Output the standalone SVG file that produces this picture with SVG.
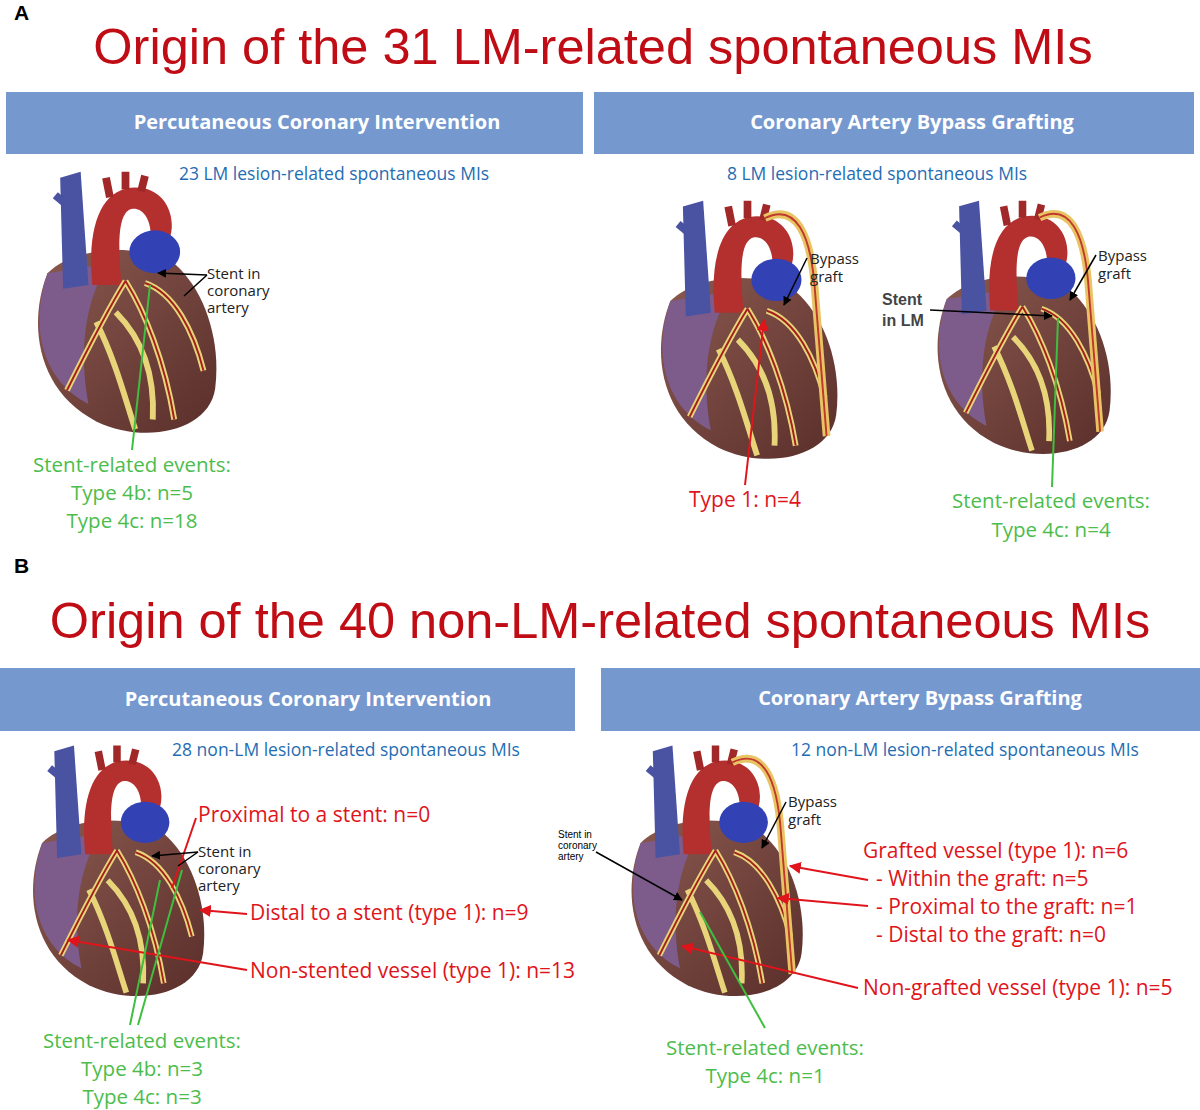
<svg xmlns="http://www.w3.org/2000/svg" width="1200" height="1110" viewBox="0 0 1200 1110">
<style>
.t{font-family:"Liberation Sans",Arial,sans-serif}
.ttl{font-family:"Liberation Sans",Arial,sans-serif;font-size:50.5px;fill:#c00d15;text-anchor:middle}
.lt{font-family:"Liberation Sans",Arial,sans-serif;font-size:21px;font-weight:bold}
.bar{fill:#7598cf}
.bt{font-family:"Open Sans","Liberation Sans",sans-serif;font-size:20px;font-weight:bold;fill:#fff;text-anchor:middle}
.bl{font-family:"Open Sans","Liberation Sans",sans-serif;font-size:17.5px;fill:#1f6db3;text-anchor:middle}
.g{font-family:"Open Sans","Liberation Sans",sans-serif;font-size:20.5px;fill:#4cbd4c;text-anchor:middle}
.r{font-family:"Open Sans","Liberation Sans",sans-serif;font-size:21px;fill:#e0141b}
.k{font-family:"Open Sans","Liberation Sans",sans-serif;font-size:15px;fill:#222}
.gl{stroke:#3fbf3f;stroke-width:2;fill:none}
.rl{stroke:#e0141b;stroke-width:2;fill:none}
.kl{stroke:#000;stroke-width:1.5;fill:none}
</style>
<defs>
<marker id="ak" viewBox="0 0 10 10" refX="9" refY="5" markerWidth="6" markerHeight="6" orient="auto"><path d="M0,0L10,5L0,10z" fill="#000"/></marker>
<marker id="ar" viewBox="0 0 10 10" refX="9" refY="5" markerWidth="6" markerHeight="6" orient="auto"><path d="M0,0L10,5L0,10z" fill="#e0141b"/></marker>
<linearGradient id="bd" x1="0" y1="0" x2="1" y2="1"><stop offset="0" stop-color="#8a5a50"/><stop offset="1" stop-color="#5a2e2a"/></linearGradient>
<symbol id="heart" viewBox="0 0 200 280" width="200" height="280">
<path d="M20,110 C0,160 8,230 70,262 C120,286 186,272 192,228 C198,180 182,128 150,100 C120,80 50,80 20,110Z" fill="url(#bd)"/>
<path d="M20,110 C0,170 18,222 62,244 C52,190 58,140 82,100Z" fill="#7d5c8c"/>
<path d="M33,12 L54,6 L62,122 L36,126Z" fill="#4a52a2"/>
<path d="M40,40 L28,30" stroke="#4a52a2" stroke-width="8"/>
<path d="M66,122 C60,60 76,22 110,22 C140,22 152,50 146,72 L126,72 C126,52 116,42 106,44 C92,48 92,80 96,122Z" fill="#b3302e"/>
<path d="M84,32 L80,12 M100,24 L100,6 M116,26 L120,10" stroke="#a02828" stroke-width="8"/>
<ellipse cx="130" cy="88" rx="26" ry="22" fill="#3242b5"/>
<path d="M100,118 C120,150 140,200 150,260 M100,118 C80,150 60,190 40,230 M120,120 C150,130 170,170 180,210 M70,160 C90,200 100,240 110,270 M90,150 C120,180 130,220 128,260" stroke="#e8d57a" stroke-width="6" fill="none"/>
<path d="M100,118 C120,150 140,200 150,260 M100,118 C80,150 60,190 40,230 M120,120 C150,130 170,170 180,210" stroke="#a4201c" stroke-width="2" fill="none"/>
</symbol>
<symbol id="graft" viewBox="0 0 200 280" width="200" height="280">
<path d="M118,24 C150,8 166,40 170,100 L182,250" stroke="#e9c465" stroke-width="8" fill="none"/>
<path d="M118,24 C150,8 166,40 170,100 L182,250" stroke="#c0392b" stroke-width="2" fill="none"/>
</symbol>
</defs>
<text class="lt" x="14" y="20">A</text>
<text class="ttl" x="593" y="64">Origin of the 31 LM-related spontaneous MIs</text>
<g id="pciA"><rect class="bar" x="6" y="92" width="577" height="62"/><text class="bt" x="317" y="129">Percutaneous Coronary Intervention</text></g>
<g id="cabgA"><rect class="bar" x="594" y="92" width="600" height="62"/><text class="bt" x="912" y="129">Coronary Artery Bypass Grafting</text></g>
<text class="bl" x="334" y="180">23 LM lesion-related spontaneous MIs</text>
<text class="bl" x="877" y="180">8 LM lesion-related spontaneous MIs</text>
<g id="heart1"><use href="#heart" x="28" y="165" width="195" height="275"/></g>
<g id="heart2"><use href="#heart" x="645" y="195" width="205" height="270"/><use href="#graft" x="645" y="195" width="205" height="270"/></g>
<g id="heart3"><use href="#heart" x="920" y="195" width="205" height="265"/><use href="#graft" x="920" y="195" width="205" height="265"/></g>
<g id="heart4"><use href="#heart" x="22" y="740" width="190" height="262"/></g>
<g id="heart5"><use href="#heart" x="618" y="740" width="195" height="262"/><use href="#graft" x="618" y="740" width="195" height="262"/></g>
<g id="connectors">
<path class="kl" d="M207,275 L158,273" marker-end="url(#ak)"/><path class="kl" d="M207,275 L184,296"/>
<path class="gl" d="M132,450 L150,285"/>
<path class="kl" d="M807,258 L784,305" marker-end="url(#ak)"/>
<path class="rl" d="M745,485 L764,320" marker-end="url(#ar)"/>
<path class="kl" d="M1096,255 L1070,300" marker-end="url(#ak)"/>
<path class="kl" d="M930,310 L1052,316" marker-end="url(#ak)"/>
<path class="gl" d="M1052,487 L1058,318"/>
<path class="rl" d="M196,818 L172,888"/>
<path class="kl" d="M198,852 L152,856" marker-end="url(#ak)"/><path class="kl" d="M198,852 L178,866"/>
<path class="rl" d="M247,914 L200,910" marker-end="url(#ar)"/>
<path class="rl" d="M247,970 L68,940" marker-end="url(#ar)"/>
<path class="gl" d="M130,1025 L160,880 M138,1025 L182,870"/>
<path class="kl" d="M596,852 L682,900" marker-end="url(#ak)"/>
<path class="kl" d="M786,802 L762,848" marker-end="url(#ak)"/>
<path class="rl" d="M868,880 L790,866" marker-end="url(#ar)"/>
<path class="rl" d="M868,906 L778,898" marker-end="url(#ar)"/>
<path class="rl" d="M858,988 L682,946" marker-end="url(#ar)"/>
<path class="gl" d="M765,1028 L700,912"/>
</g>
<text class="k" x="207" y="279">Stent in</text><text class="k" x="207" y="296">coronary</text><text class="k" x="207" y="313">artery</text>
<text class="g" x="132" y="472">Stent-related events:</text><text class="g" x="132" y="500">Type 4b: n=5</text><text class="g" x="132" y="528">Type 4c: n=18</text>
<text class="k" x="810" y="264">Bypass</text><text class="k" x="810" y="282">graft</text>
<text class="k" x="1098" y="261">Bypass</text><text class="k" x="1098" y="279">graft</text>
<text class="t" x="882" y="305" font-size="16" font-weight="bold" fill="#444">Stent</text><text class="t" x="882" y="326" font-size="16" font-weight="bold" fill="#444">in LM</text>
<text class="r" x="745" y="507" text-anchor="middle">Type 1: n=4</text>
<text class="g" x="1051" y="508">Stent-related events:</text><text class="g" x="1051" y="537">Type 4c: n=4</text>
<text class="lt" x="14" y="573">B</text>
<text class="ttl" x="600" y="638" font-size="51.5">Origin of the 40 non-LM-related spontaneous MIs</text>
<g id="pciB"><rect class="bar" x="0" y="668" width="575" height="63"/><text class="bt" x="308" y="706">Percutaneous Coronary Intervention</text></g>
<g id="cabgB"><rect class="bar" x="601" y="668" width="599" height="63"/><text class="bt" x="920" y="705">Coronary Artery Bypass Grafting</text></g>
<text class="bl" x="346" y="756">28 non-LM lesion-related spontaneous MIs</text>
<text class="bl" x="965" y="756">12 non-LM lesion-related spontaneous MIs</text>
<text class="r" x="198" y="822">Proximal to a stent: n=0</text>
<text class="k" x="198" y="857">Stent in</text><text class="k" x="198" y="874">coronary</text><text class="k" x="198" y="891">artery</text>
<text class="r" x="250" y="920">Distal to a stent (type 1): n=9</text>
<text class="r" x="250" y="978">Non-stented vessel (type 1): n=13</text>
<text class="g" x="142" y="1048">Stent-related events:</text><text class="g" x="142" y="1076">Type 4b: n=3</text><text class="g" x="142" y="1104">Type 4c: n=3</text>
<text class="t" x="558" y="838" font-size="10">Stent in</text><text class="t" x="558" y="849" font-size="10">coronary</text><text class="t" x="558" y="860" font-size="10">artery</text>
<text class="k" x="788" y="807">Bypass</text><text class="k" x="788" y="825">graft</text>
<text class="r" x="863" y="858">Grafted vessel (type 1): n=6</text>
<text class="r" x="876" y="886">- Within the graft: n=5</text>
<text class="r" x="876" y="914">- Proximal to the graft: n=1</text>
<text class="r" x="876" y="942">- Distal to the graft: n=0</text>
<text class="r" x="863" y="995">Non-grafted vessel (type 1): n=5</text>
<text class="g" x="765" y="1055">Stent-related events:</text><text class="g" x="765" y="1083">Type 4c: n=1</text>
</svg>
